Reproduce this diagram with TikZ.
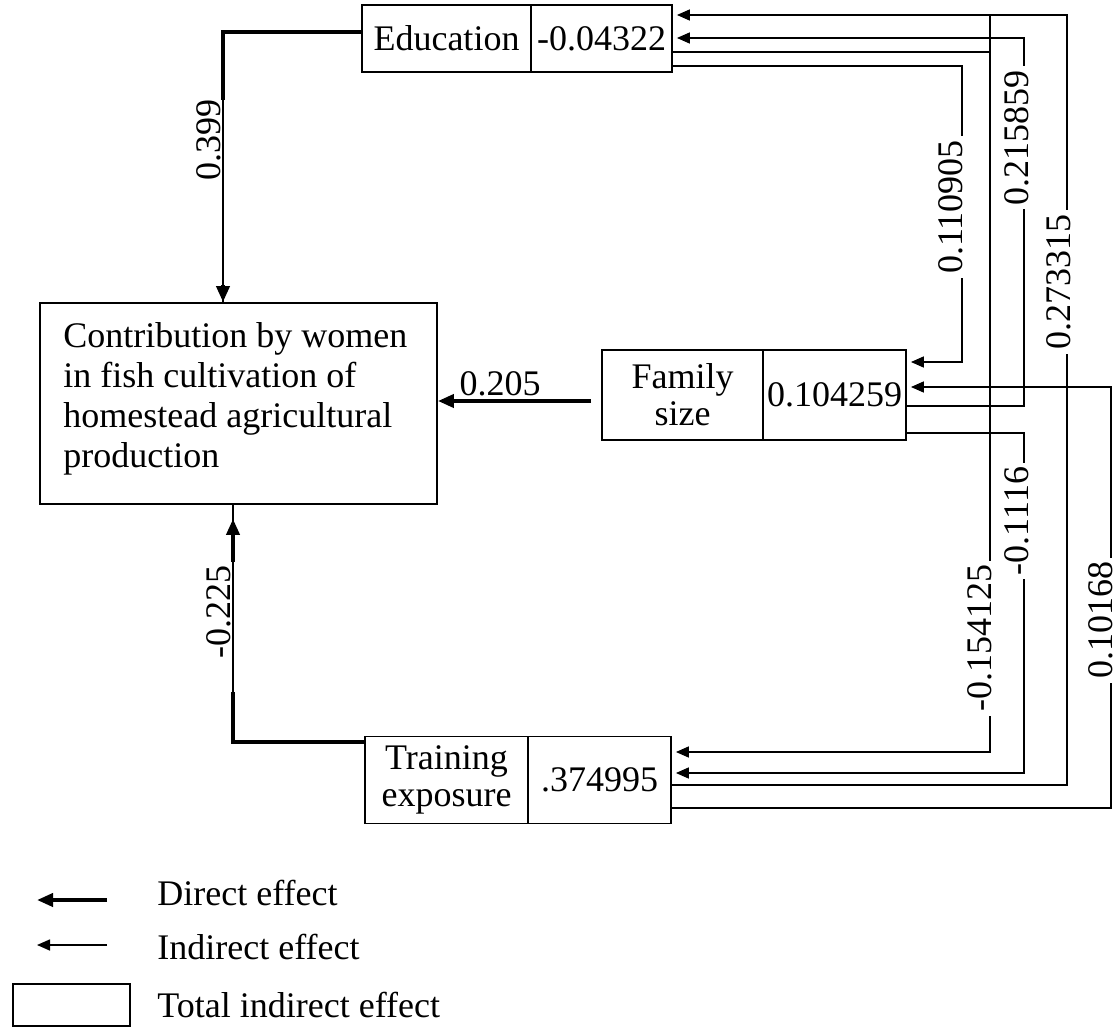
\documentclass[tikz,border=0pt]{standalone}
\usepackage{fontspec}
\setmainfont{Liberation Serif}
\usetikzlibrary{arrows.meta}

\begin{document}
\begin{tikzpicture}[x=0.5pt,y=-0.5pt,
  every node/.style={font=\fontsize{18}{18.5}\selectfont},
  cell/.style={draw, line width=0.9pt, inner sep=0pt, align=center},
  bigtip/.style={-{Triangle[length=8pt,width=6.5pt]}},
  direct/.style={line width=1.9pt, bigtip},
  thinpart/.style={line width=0.9pt},
  indirect/.style={line width=0.8pt, -{Triangle[length=6.5pt,width=5.5pt]}, shorten >=2pt},
  plain/.style={line width=0.8pt},
  vlab/.style={fill=white, rotate=90, inner sep=2pt},
]
\useasboundingbox (0,0) rectangle (1118,1027);

% boxes: name cell | total indirect effect cell
\node[cell, minimum width=84.5pt, minimum height=33.5pt] (edul) at (446.5,38.5) {Education};
\node[cell, minimum width=70.5pt, minimum height=33.5pt] (eduv) at (601.5,38.5) {-0.04322};

\node[cell, minimum width=80.5pt, minimum height=45pt] (faml) at (682.5,395) {Family\\size};
\node[cell, minimum width=71.5pt, minimum height=45pt] (famv) at (834.5,395) {0.104259};

\node[cell, minimum width=81.5pt, minimum height=43.5pt] (trl) at (446.5,780) {Training\\exposure};
\node[cell, minimum width=71.5pt, minimum height=43.5pt] (trv) at (599.5,780) {.374995};

% dependent variable
\node[cell, minimum width=198.5pt, minimum height=100.5pt] (main) at (238.5,403.5) {};
\node[anchor=north west, inner sep=0pt, align=left, font=\fontsize{18}{20}\selectfont] (maintext) at (63,322)
  {Contribution by women\\in fish cultivation of\\homestead agricultural\\production};

% direct effects (the line runs thinner where its label stands)
\draw[thinpart] (edul.west |- 0,32) -| (main.north -| 223,0);
\draw[line width=1.9pt] (edul.west |- 0,32) -| (223,100);
\draw[direct] (223,285) -- (main.north -| 223,0);
\draw[direct, shorten <=5pt] (faml.west |- 0,401) -- (main.east |- 0,401);
\draw[thinpart] (trl.west |- 0,742) -| (main.south -| 233,0);
\draw[line width=1.9pt] (trl.west |- 0,742) -| (233,692);
\draw[direct, shorten >=7pt] (233,562) -- (main.south -| 233,0);

\node[rotate=90] (l399) at (209,140) {0.399};
\node (l205) at (500,384) {0.205};
\node[rotate=90] (l225) at (219,612) {-0.225};

% indirect effects
\draw[plain] (990,15) -- (990,52);
\draw[indirect] (trv.east |- 0,785) -| (1067,15) -- (eduv.east |- 0,15);
\draw[indirect] (famv.east |- 0,406) -| (1024,38) -- (eduv.east |- 0,38);
\draw[indirect] (famv.east |- 0,433) -| (1024,773) -- (trv.east |- 0,773);
\draw[indirect] (eduv.east |- 0,52) -| (990,752) -- (trv.east |- 0,752);
\draw[indirect] (eduv.east |- 0,66) -| (962,362) -- (famv.east |- 0,362);
\draw[indirect] (trv.east |- 0,808) -| (1111,387) -- (famv.east |- 0,387);

\node[vlab] (i1) at (951,207) {0.110905};
\node[vlab] (i2) at (1017,138) {0.215859};
\node[vlab] (i3) at (1059,282) {0.273315};
\node[vlab] (i4) at (980,638) {-0.154125};
\node[vlab] (i5) at (1017,521) {-0.1116};
\node[vlab] (i6) at (1101,620) {0.10168};

% legend
\coordinate (d0) at (107,900);
\coordinate (d1) at (37,900);
\coordinate (n0) at (107,945);
\coordinate (n1) at (37,945);
\draw[direct] (d0) -- (d1);
\draw[line width=0.8pt, -{Triangle[length=6.5pt,width=5.5pt]}] (n0) -- (n1);
\node[draw, line width=0.9pt, anchor=north west, minimum width=58.5pt, minimum height=21pt, inner sep=0pt] (tot) at (12,983) {};
\node[anchor=base west, inner sep=0pt] (t1) at (157,905) {Direct effect};
\node[anchor=base west, inner sep=0pt] (t2) at (157,959) {Indirect effect};
\node[anchor=base west, inner sep=0pt] (t3) at (157,1017) {Total indirect effect};
\end{tikzpicture}
\end{document}
